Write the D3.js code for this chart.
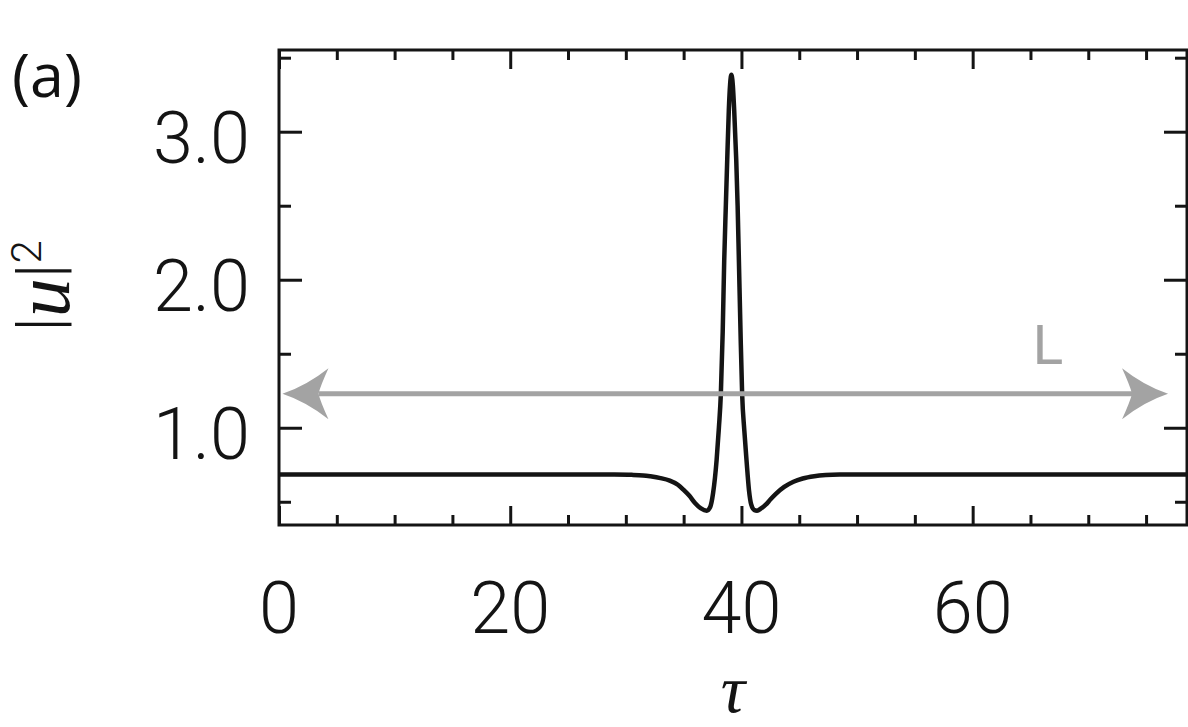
<!DOCTYPE html>
<html>
<head>
<meta charset="utf-8">
<script src="https://cdn.jsdelivr.net/npm/d3@7"></script>
<style>
  html, body { margin: 0; padding: 0; background: #fff; }
  svg { display: block; }
</style>
</head>
<body>
<svg id="chart" width="1188" height="727"></svg>
<script>
// ---------- data ----------
const tau = [0, 10, 20, 26, 29, 30.5, 31.5, 32.1, 33, 33.8, 34.5, 35.0, 35.5, 36.0, 36.5, 37.0, 37.3, 37.55,
  37.85, 38.05, 38.22, 38.38, 38.51, 38.65, 38.77, 38.91, 39.02, 39.08, 39.13, 39.18, 39.25, 39.37, 39.55,
  39.67, 39.78, 39.92, 40.06, 40.25, 40.44, 40.65, 40.85, 41.1, 41.35, 41.7, 42.1, 42.5, 43.0, 43.7, 44.5,
  45.3, 46.3, 47.3, 48.5, 50, 60, 70, 78.54];
const intensity = [0.685, 0.685, 0.685, 0.685, 0.684, 0.682, 0.678, 0.672, 0.66, 0.643, 0.615, 0.58, 0.54,
  0.49, 0.455, 0.44, 0.465, 0.56, 0.78, 1.0, 1.23, 1.65, 2.13, 2.5, 2.81, 3.15, 3.32, 3.37, 3.385, 3.37,
  3.32, 3.15, 2.81, 2.5, 2.13, 1.65, 1.23, 0.98, 0.78, 0.58, 0.48, 0.445, 0.44, 0.455, 0.48, 0.515, 0.555,
  0.60, 0.635, 0.657, 0.672, 0.68, 0.684, 0.685, 0.685, 0.685, 0.685];

const xDomain = [0, 78.54];
const yDomain = [0.343, 3.552];
const xMajorTicks = [0, 20, 40, 60];
const xTickLabels = ["0", "20", "40", "60"];
const xMinorTicks = [5, 10, 15, 25, 30, 35, 45, 50, 55, 65, 70, 75];
const yMajorTicks = [1.0, 2.0, 3.0];
const yTickLabels = ["1.0", "2.0", "3.0"];
const yMinorTicks = [0.5, 1.5, 2.5, 3.5];

// annotation arrow (period L)
const arrowY = 1.23;
const arrowStart = 0.3;
const arrowEnd = 76.9;
const arrowLabel = "L";
const panelLabel = "(a)";

// ---------- layout ----------
const svg = d3.select("#chart");
const pL = 279, pR = 1187, pT = 50, pB = 525;

const x = d3.scaleLinear().domain(xDomain).range([pL, pR]);
const y = d3.scaleLinear().domain(yDomain).range([pB, pT]);

const tickFont = "Roboto, 'Open Sans', sans-serif";
const ink = "#141414";
const grey = "#a3a3a3";

// ---------- axes (ticks on all four sides, pointing inward) ----------
const g = svg.append("g");
function tickAxes(axisGen, transform) {
  const a = g.append("g").attr("transform", transform).call(axisGen);
  a.selectAll(".domain").remove();
  a.selectAll("text").remove();
  a.selectAll("line").attr("stroke", ink).attr("stroke-width", 3);
  return a;
}
const yMinorIn = yMinorTicks.filter(v => v > yDomain[0] && v < yDomain[1]);
tickAxes(d3.axisTop(x).tickValues(xMajorTicks).tickSize(19), `translate(0,${pB})`);
tickAxes(d3.axisTop(x).tickValues(xMinorTicks).tickSize(10), `translate(0,${pB})`);
tickAxes(d3.axisBottom(x).tickValues(xMajorTicks).tickSize(19), `translate(0,${pT})`);
tickAxes(d3.axisBottom(x).tickValues(xMinorTicks).tickSize(10), `translate(0,${pT})`);
tickAxes(d3.axisRight(y).tickValues(yMajorTicks).tickSize(23), `translate(${pL},0)`);
tickAxes(d3.axisRight(y).tickValues(yMinorIn).tickSize(12), `translate(${pL},0)`);
tickAxes(d3.axisLeft(y).tickValues(yMajorTicks).tickSize(23), `translate(${pR},0)`);
tickAxes(d3.axisLeft(y).tickValues(yMinorIn).tickSize(12), `translate(${pR},0)`);

g.append("rect")
  .attr("x", pL).attr("y", pT)
  .attr("width", pR - pL).attr("height", pB - pT)
  .attr("fill", "none").attr("stroke", ink).attr("stroke-width", 3);

g.selectAll(".xl").data(xMajorTicks).enter().append("text")
  .attr("x", d => x(d)).attr("y", 633)
  .attr("text-anchor", "middle")
  .attr("font-family", tickFont).attr("font-weight", 300).attr("font-size", 72)
  .attr("fill", ink)
  .text((d, i) => xTickLabels[i]);

g.selectAll(".yl").data(yMajorTicks).enter().append("text")
  .attr("x", 250).attr("y", d => y(d) + 31)
  .attr("text-anchor", "end")
  .attr("font-family", tickFont).attr("font-weight", 300).attr("font-size", 72)
  .attr("fill", ink)
  .text((d, i) => yTickLabels[i]);

// ---------- curve ----------
const data = tau.map((t, i) => [t, intensity[i]]);
const line = d3.line().x(d => x(d[0])).y(d => y(d[1])).curve(d3.curveMonotoneX);
svg.append("path").datum(data)
  .attr("d", line)
  .attr("fill", "none").attr("stroke", ink).attr("stroke-width", 4.5)
  .attr("stroke-linejoin", "round");

// ---------- grey double arrow ----------
const ay = y(arrowY), ax0 = x(arrowStart), ax1 = x(arrowEnd);
const headLen = 46, headHalf = 25.5, notch = 36;
svg.append("line")
  .attr("x1", ax0 + notch).attr("x2", ax1 - notch)
  .attr("y1", ay).attr("y2", ay)
  .attr("stroke", grey).attr("stroke-width", 5);
function head(tipX, dir) {
  const bx = tipX - dir * headLen, nx = tipX - dir * notch;
  const p = d3.path();
  p.moveTo(tipX, ay);
  p.quadraticCurveTo(tipX - dir * 24, ay - 8, bx, ay - headHalf);
  p.quadraticCurveTo(tipX - dir * 38, ay - 8, nx, ay);
  p.quadraticCurveTo(tipX - dir * 38, ay + 8, bx, ay + headHalf);
  p.quadraticCurveTo(tipX - dir * 24, ay + 8, tipX, ay);
  p.closePath();
  svg.append("path").attr("d", p.toString()).attr("fill", grey);
}
head(ax1, 1);
head(ax0, -1);

svg.append("text")
  .attr("x", 1032).attr("y", 364)
  .style("font-family", "'DejaVu Sans', sans-serif")
  .style("font-size", "54px")
  .attr("fill", grey)
  .text(arrowLabel);

// ---------- titles ----------
svg.append("text")
  .attr("x", 12).attr("y", 97)
  .attr("font-family", "'Open Sans', sans-serif").attr("font-size", 61).attr("font-weight", 500)
  .attr("fill", "#111")
  .text(panelLabel);

svg.append("text")
  .attr("x", 733).attr("y", 712)
  .attr("text-anchor", "middle")
  .attr("font-family", "'Liberation Serif', serif").attr("font-style", "italic").attr("font-size", 68)
  .attr("fill", ink)
  .text("τ");

const yt = svg.append("text")
  .attr("transform", "translate(69,286) rotate(-90)")
  .attr("text-anchor", "middle")
  .attr("font-family", tickFont).attr("font-weight", 300).attr("font-size", 66)
  .attr("fill", ink);
yt.append("tspan").attr("dy", -6).text("|");
yt.append("tspan").attr("dy", 6).attr("font-family", "'Liberation Serif', serif").attr("font-style", "italic")
  .attr("font-size", 78).text("u");
yt.append("tspan").attr("dy", -6).text("|");
yt.append("tspan").attr("dy", -22).attr("font-size", 42).text("2");
</script>
</body>
</html>
